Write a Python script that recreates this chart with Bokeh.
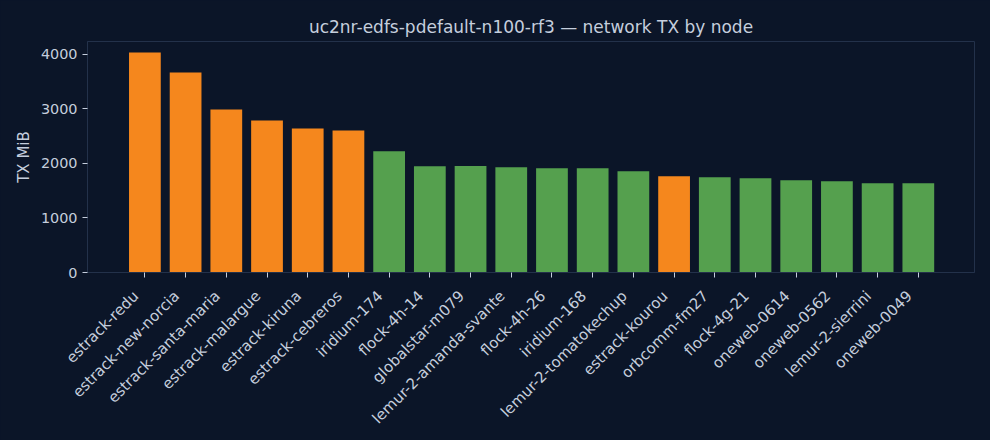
import math
from bokeh.plotting import figure
from bokeh.models import ColumnDataSource, FixedTicker, Range1d, GlobalInlineStyleSheet, LinearAxis
from bokeh.embed import file_html
from bokeh.resources import INLINE

nodes = ["estrack-redu", "estrack-new-norcia", "estrack-santa-maria", "estrack-malargue",
         "estrack-kiruna", "estrack-cebreros", "iridium-174", "flock-4h-14",
         "globalstar-m079", "lemur-2-amanda-svante", "flock-4h-26", "iridium-168",
         "lemur-2-tomatokechup", "estrack-kourou", "orbcomm-fm27", "flock-4g-21",
         "oneweb-0614", "oneweb-0562", "lemur-2-sierrini", "oneweb-0049"]
tx_mib = [4031, 3665, 2988, 2787, 2640, 2604, 2220, 1945, 1950, 1927,
          1909, 1909, 1854, 1762, 1744, 1726, 1689, 1671, 1634, 1634]
y_ticks = [0, 1000, 2000, 3000, 4000]

ORANGE = "#f5871d"
GREEN = "#55a04e"
BG = "#0b1528"
TEXT = "#c5cedd"
FRAME = "#23314a"
FONT = "DejaVu Sans"

idx = list(range(len(nodes)))
colors = [ORANGE if n.startswith("estrack") else GREEN for n in nodes]
src = ColumnDataSource(dict(x=idx, top=tx_mib, color=colors, name=nodes))

x_lo, x_hi = -1.41, len(nodes) - 1 + 1.38
label_shift = 0.22  # moves the rotated labels slightly left of their ticks

p = figure(width=990, height=440, output_backend="svg", toolbar_location=None,
           x_range=Range1d(x_lo, x_hi),
           y_range=Range1d(0, max(tx_mib) * 1.05),
           x_axis_location=None,
           title="uc2nr-edfs-pdefault-n100-rf3 — network TX by node",
           min_border_left=87, min_border_right=16, min_border_top=41, min_border_bottom=168,
           stylesheets=[GlobalInlineStyleSheet(css="body{background:%s;}" % BG)])
p.extra_x_ranges = {"lab": Range1d(x_lo + label_shift, x_hi + label_shift)}

p.vbar(x="x", top="top", width=0.78, color="color", source=src, line_color=None)

p.background_fill_color = BG
p.border_fill_color = BG
p.outline_line_color = FRAME
p.outline_line_width = 1
p.grid.visible = False

p.title.align = "center"
p.title.text_color = TEXT
p.title.text_font = FONT
p.title.text_font_size = "17px"
p.title.text_font_style = "normal"

ya = p.yaxis[0]
ya.axis_line_color = FRAME
ya.major_tick_line_color = TEXT
ya.major_tick_out = 5
ya.major_tick_in = 0
ya.minor_tick_line_color = None
ya.major_label_text_color = TEXT
ya.major_label_text_font = FONT
ya.major_label_text_font_size = "14.4px"
ya.axis_label = "TX MiB"
ya.axis_label_text_color = TEXT
ya.axis_label_text_font = FONT
ya.axis_label_text_font_size = "15px"
ya.axis_label_text_font_style = "normal"
ya.ticker = FixedTicker(ticks=y_ticks)

# x axis: labels on the (shifted) major ticks, visible tick marks as minor ticks
xa = LinearAxis(x_range_name="lab",
                ticker=FixedTicker(ticks=idx, minor_ticks=[i + label_shift for i in idx]),
                major_label_overrides={i: n for i, n in zip(idx, nodes)},
                major_label_orientation=math.pi / 4,
                major_label_standoff=16,
                major_tick_out=0, major_tick_in=0, major_tick_line_color=None,
                minor_tick_out=5, minor_tick_in=0, minor_tick_line_color=TEXT,
                minor_tick_line_width=1,
                axis_line_color=FRAME,
                major_label_text_color=TEXT, major_label_text_font=FONT,
                major_label_text_font_size="15px")
p.add_layout(xa, "below")

open("out.html", "w").write(file_html(p, INLINE))
